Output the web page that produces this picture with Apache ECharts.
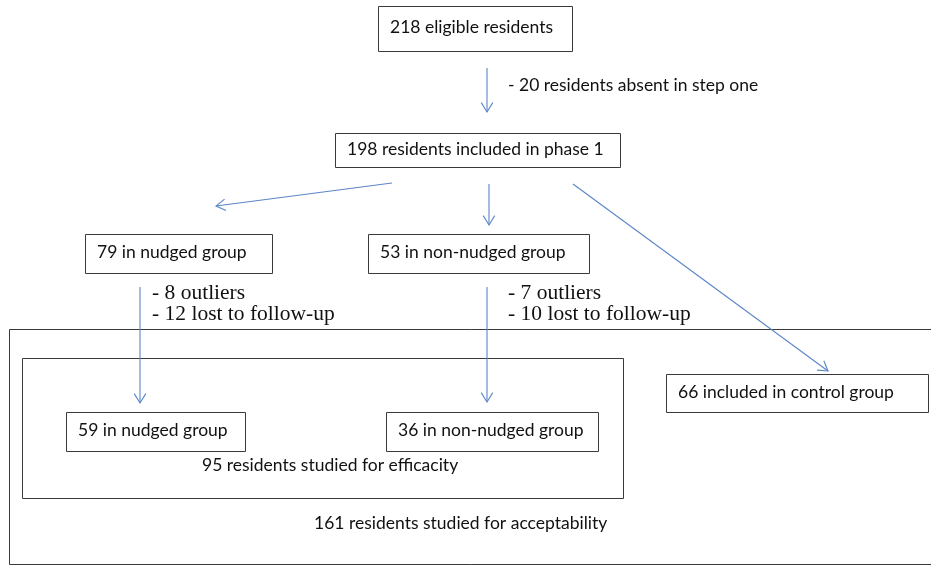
<!DOCTYPE html>
<html>
<head>
<meta charset="utf-8">
<script src="https://cdn.jsdelivr.net/npm/echarts@6/dist/echarts.min.js"></script>
<style>html,body{margin:0;padding:0;background:#fff}#c{width:931px;height:565px}</style>
</head>
<body>
<div id="c"></div>
<script>
// Diagram coordinate space (pixels of the 931x565 drawing)
const boxLabels = ['218 eligible residents', '198 residents included in phase 1', '79 in nudged group', '53 in non-nudged group',
  '66 included in control group', '59 in nudged group', '36 in non-nudged group', '', ''];
const boxLeft   = [378, 335, 85, 368, 666, 66, 386, 22, 9];
const boxTop    = [6, 133, 234, 234, 374, 412, 412, 358, 329];
const boxRight  = [572, 620, 272, 589, 928, 245, 598, 623, 960];
const boxBottom = [51, 167, 273, 273, 412, 451, 451, 498, 564];

const arrowFromX = [487, 392, 489, 573, 140, 487];
const arrowFromY = [68, 183, 184, 184, 287, 287];
const arrowToX   = [487, 216, 489, 828, 140, 487];
const arrowToY   = [112, 206, 225, 371, 403, 402];

const noteLabels = ['- 20 residents absent in step one', '- 8 outliers', '- 12 lost to follow-up', '- 7 outliers', '- 10 lost to follow-up',
  '95 residents studied for efficacity', '161 residents studied for acceptability'];
const noteX = [508, 152, 152, 508, 508, 202, 314];
const noteY = [85, 293, 314, 293, 314, 465, 523];
const noteSerif = [false, true, true, true, true, false, false];

const SANS = 'Lato, "Open Sans", sans-serif';
const SERIF = '"Liberation Serif", "DejaVu Serif", serif';

const boxData = boxLabels.map((l, i) => [boxLeft[i], boxTop[i], boxRight[i], boxBottom[i], l]);
const arrowData = arrowFromX.map((x, i) => [x, arrowFromY[i], arrowToX[i], arrowToY[i]]);
const noteData = noteLabels.map((l, i) => [noteX[i], noteY[i], l, noteSerif[i] ? 1 : 0]);

const chart = echarts.init(document.getElementById('c'));
chart.setOption({
  animation: false,
  grid: {left: 0, right: 0, top: 0, bottom: 0},
  xAxis: {type: 'value', min: 0, max: 931, show: false},
  yAxis: {type: 'value', min: 0, max: 565, inverse: true, show: false},
  series: [
    {
      type: 'custom', clip: false, data: boxData,
      encode: {x: [0, 2], y: [1, 3]},
      renderItem: function (params, api) {
        const p0 = api.coord([api.value(0), api.value(1)]);
        const p1 = api.coord([api.value(2), api.value(3)]);
        const label = boxLabels[params.dataIndex];
        const children = [{
          type: 'rect',
          shape: {x: Math.round(p0[0]) + 0.5, y: Math.round(p0[1]) + 0.5, width: Math.round(p1[0] - p0[0]), height: Math.round(p1[1] - p0[1])},
          style: {fill: 'none', stroke: '#3a3a3a', lineWidth: 1}
        }];
        if (label) {
          children.push({
            type: 'text',
            style: {x: p0[0] + 12, y: (p0[1] + p1[1]) / 2 - 1, text: label, align: 'left', verticalAlign: 'middle',
              font: '17.5px ' + SANS, fill: '#111'}
          });
        }
        return {type: 'group', children: children};
      }
    },
    {
      type: 'custom', clip: false, data: arrowData,
      encode: {x: [0, 2], y: [1, 3]},
      renderItem: function (params, api) {
        const a = api.coord([api.value(0), api.value(1)]);
        const b = api.coord([api.value(2), api.value(3)]);
        const ang = Math.atan2(b[1] - a[1], b[0] - a[0]);
        const L = 11, h = 0.55;
        const l1 = [b[0] - L * Math.cos(ang - h), b[1] - L * Math.sin(ang - h)];
        const l2 = [b[0] - L * Math.cos(ang + h), b[1] - L * Math.sin(ang + h)];
        const st = {stroke: '#5b86c6', lineWidth: 1.1, fill: 'none'};
        return {type: 'group', children: [
          {type: 'line', shape: {x1: a[0], y1: a[1], x2: b[0], y2: b[1]}, style: st},
          {type: 'polyline', shape: {points: [l1, b, l2]}, style: st}
        ]};
      }
    },
    {
      type: 'custom', clip: false, data: noteData,
      encode: {x: 0, y: 1},
      renderItem: function (params, api) {
        const p = api.coord([api.value(0), api.value(1)]);
        const serif = noteSerif[params.dataIndex];
        return {
          type: 'text',
          style: {x: p[0], y: p[1], text: noteLabels[params.dataIndex], align: 'left', verticalAlign: 'middle',
            font: serif ? '21.5px ' + SERIF : '17.5px ' + SANS, fill: '#111'}
        };
      }
    }
  ]
});
</script>
</body>
</html>
